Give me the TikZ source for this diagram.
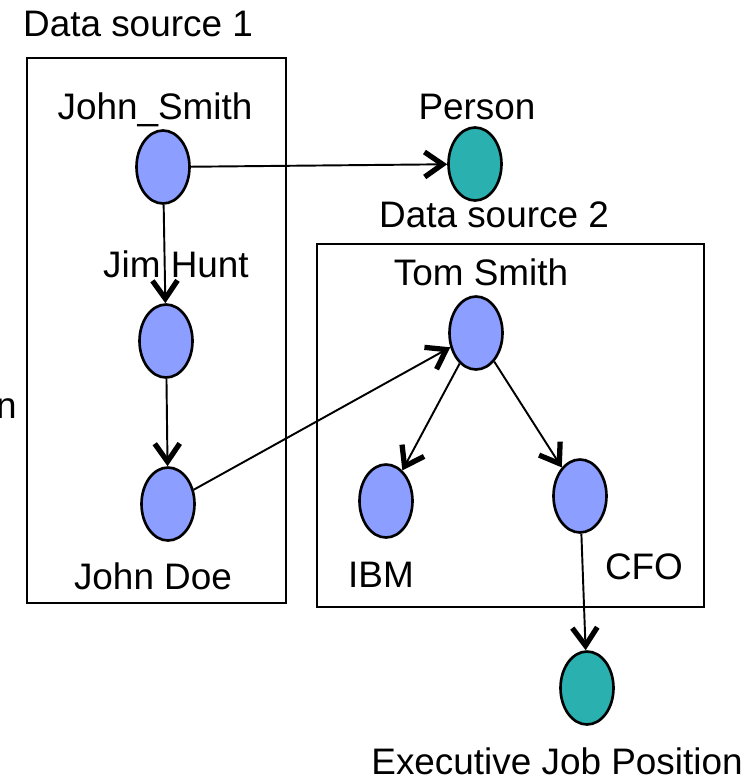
\documentclass[tikz,border=0pt]{standalone}
\usepackage{fontspec}
\setmainfont{Liberation Sans}
\usetikzlibrary{positioning}
\usetikzlibrary{shapes.geometric}
\usetikzlibrary{arrows.meta}

\definecolor{entityblue}{HTML}{8C9EFF}
\definecolor{classteal}{HTML}{2BB0B0}

\tikzset{
    entity/.style={draw, ellipse, line width=1.5pt, fill=entityblue, minimum width=1.06cm, minimum height=1.46cm, inner sep=0pt},
    class/.style={entity, fill=classteal},
    lbl/.style={font=\fontsize{21}{25}\selectfont, inner sep=0pt, anchor=base},
    link/.style={line width=1.1pt, -{Straight Barb[length=0.36cm, width=0.5cm, line width=3pt]}}
}

\begin{document}
\begin{tikzpicture}[x=0.02cm, y=-0.02cm]

    \useasboundingbox (0,0) rectangle (750,781);

    % the two data sources
    \draw[line width=1.1pt] (27,58) rectangle (286,603);
    \draw[line width=1.1pt] (317,244) rectangle (704,607);
    \node[lbl] (ds1) at (138,36) {Data source 1};
    \node[lbl] (ds2) at (494,227) {Data source 2};

    \node[entity] (johnsmith) at (163,167) {};
    \node[class] (person) at (475,164) {};
    \node[entity] (jimhunt) at (166,341) {};
    \node[entity] (johndoe) at (168,504) {};
    \node[entity] (tomsmith) at (476,333) {};
    \node[entity] (ibm) at (386,501) {};
    \node[entity] (cfo) at (580,496) {};
    \node[class] (execjob) at (587,688) {};

    \node[lbl] (lJohnSmith) at (155,119) {John\_Smith};
    \node[lbl] (lPerson) at (477,119) {Person};
    \node[lbl] (lJimHunt) at (176,277) {Jim Hunt};
    \node[lbl] (lTomSmith) at (481,285) {Tom Smith};
    \node[lbl] (lJohnDoe) at (153,589) {John Doe};
    \node[lbl] (lIBM) at (381,587) {IBM};
    \node[lbl] (lCFO) at (644,579) {CFO};
    \node[lbl] (lExecJob) at (557,774) {Executive Job Position};
    \node[lbl, anchor=base east] (lCut) at (17,418) {n};

    \draw[link] (johnsmith) -- (person);
    \draw[link] (johnsmith) -- (jimhunt);
    \draw[link] (jimhunt) -- (johndoe);
    \draw[link] (johndoe) -- (tomsmith);
    \draw[link] (tomsmith) -- (ibm);
    \draw[link] (tomsmith) -- (cfo);
    \draw[link] (cfo) -- (execjob);

\end{tikzpicture}
\end{document}
